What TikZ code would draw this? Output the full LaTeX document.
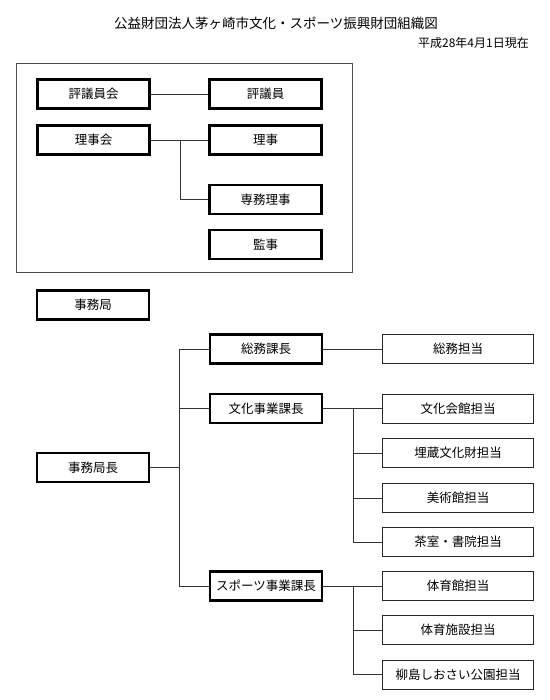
\documentclass[tikz,border=0pt]{standalone}
\usepackage{fontspec}
\setmainfont{Noto Sans CJK JP}
\tikzset{
  thickbox/.style={draw=black, line width=2.6bp, minimum width=112bp, minimum height=29bp, inner sep=0pt, font=\fontsize{12.5bp}{14bp}\selectfont},
  thinbox/.style={draw=black!85, line width=0.9bp, minimum width=151bp, minimum height=29bp, inner sep=0pt, font=\fontsize{12.5bp}{14bp}\selectfont},
  conn/.style={draw=black!80, line width=0.9bp},
}
\begin{document}
\begin{tikzpicture}[x=1bp, y=-1bp]
\useasboundingbox (0,0) rectangle (550,700);
% titles
\node[font=\fontsize{13.5bp}{15bp}\selectfont] (title) at (276,23) {公益財団法人茅ヶ崎市文化・スポーツ振興財団組織図};
\node[font=\fontsize{12bp}{14bp}\selectfont, anchor=east, inner sep=0pt] (date) at (529,43) {平成28年4月1日現在};
% frame
\draw[draw=black!70, line width=0.9bp] (16.5,63.5) rectangle (352.5,272.5);
% top section
\node[thickbox] (hyogikai) at (93.5,94) {評議員会};
\node[thickbox] (hyogiin) at (265.5,94) {評議員};
\node[thickbox] (rijikai) at (93.5,140) {理事会};
\node[thickbox] (riji) at (265.5,140) {理事};
\node[thickbox] (senmu) at (265.5,199.5) {専務理事};
\node[thickbox] (kanji) at (265.5,244.5) {監事};
\coordinate (b1) at (180,140);
\draw[conn] (hyogikai.east) -- (hyogiin.west);
\draw[conn] (rijikai.east) -- (riji.west);
\draw[conn] (b1) |- (senmu.west);
% office
\node[thickbox] (jimukyoku) at (93,305) {事務局};
\node[thickbox] (kyokucho) at (93,467.5) {事務局長};
\node[thickbox] (soumu) at (266,349) {総務課長};
\node[thickbox] (bunka) at (266,408.5) {文化事業課長};
\node[thickbox] (sports) at (266,586) {スポーツ事業課長};
\node[thinbox] (soumutanto) at (458,349) {総務担当};
\node[thinbox] (kaikan) at (458,408.5) {文化会館担当};
\node[thinbox] (maizo) at (458,453) {埋蔵文化財担当};
\node[thinbox] (bijutsu) at (458,498) {美術館担当};
\node[thinbox] (chashitsu) at (458,542) {茶室・書院担当};
\node[thinbox] (taiikukan) at (458,586) {体育館担当};
\node[thinbox] (shisetsu) at (458,630) {体育施設担当};
\node[thinbox] (yanagi) at (458,674.5) {柳島しおさい公園担当};
% left branch
\coordinate (bL) at (179.5,0);
\coordinate (bR) at (353,0);
\draw[conn] (soumu.west) -| (bL |- sports.west) -- (sports.west);
\draw[conn] (bL |- bunka.west) -- (bunka.west);
\draw[conn] (kyokucho.east) -- (bL |- kyokucho.east);
% right branches
\draw[conn] (soumu.east) -- (soumutanto.west);
\draw[conn] (bunka.east) -- (kaikan.west);
\draw[conn] (bR |- bunka.east) |- (chashitsu.west);
\draw[conn] (bR |- maizo.west) -- (maizo.west);
\draw[conn] (bR |- bijutsu.west) -- (bijutsu.west);
\draw[conn] (sports.east) -- (taiikukan.west);
\draw[conn] (bR |- sports.east) |- (yanagi.west);
\draw[conn] (bR |- shisetsu.west) -- (shisetsu.west);
\end{tikzpicture}
\end{document}
